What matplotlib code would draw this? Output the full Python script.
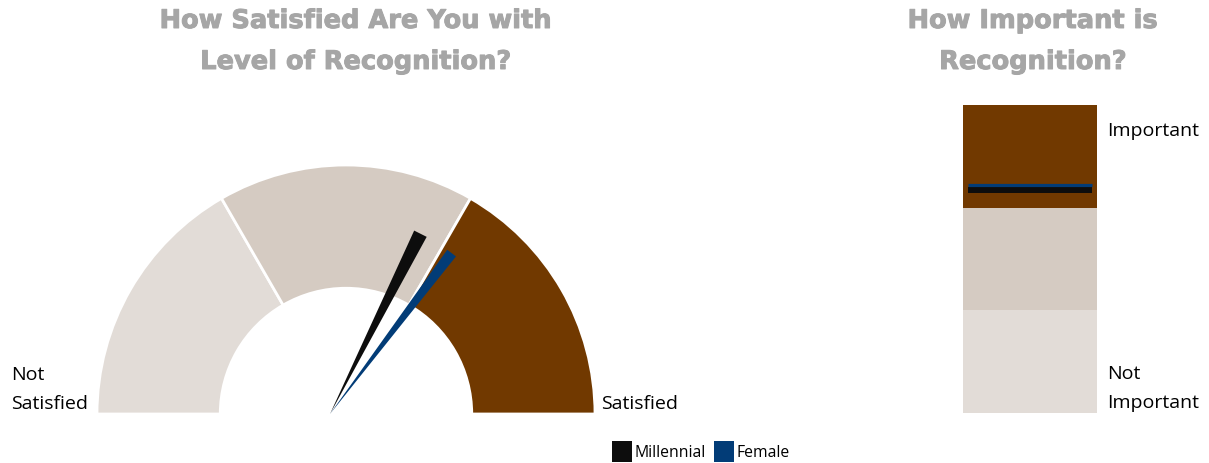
import numpy as np
import matplotlib.pyplot as plt
import matplotlib.patheffects as pe
from matplotlib.patches import Wedge, Polygon, Rectangle

# bandes de la jauge (parts égales) et position des aiguilles (0 = pas satisfait, 1 = satisfait)
gauge_bands = [1 / 3, 1 / 3, 1 / 3]
gauge_colors = ["#E2DCD7", "#D5CBC2", "#713900"]
needle_names = ["Millennial", "Female"]
needle_values = [0.648, 0.706]
needle_colors = ["#0D0D0D", "#023C77"]

# barre empilée "importance"
bar_bands = [1 / 3, 1 / 3, 1 / 3]
bar_colors = ["#E2DCD7", "#D5CBC2", "#713900"]
marker_values = [0.724, 0.739]

W, H = 1209, 464
fig = plt.figure(figsize=(W / 100, H / 100), dpi=100)

# le titre d'origine est en Arial Black : on épaissit un peu le DejaVu gras
title_kw = dict(color="#A6A6A6", fontsize=18.5, fontweight="bold",
                family="DejaVu Sans", ha="center", va="center",
                path_effects=[pe.withStroke(linewidth=0.7, foreground="#A6A6A6")])
label_kw = dict(color="black", fontsize=14, family="Open Sans")

# --- Jauge ---
R_px = 249
cx, cy = 346, 415
ax = fig.add_axes([0, (H - 430) / H, 700 / W, 340 / H])
ax.set_xlim((0 - cx) / R_px, (700 - cx) / R_px)
ax.set_ylim((cy - 430) / R_px, (cy - 90) / R_px)
ax.axis("off")

start = 180.0
for frac, col in zip(gauge_bands, gauge_colors):
    end = start - frac * 180
    ax.add_patch(Wedge((0, 0), 1.0, end, start, width=0.495,
                       facecolor=col, edgecolor="white", linewidth=2))
    start = end

base = np.array([-16 / R_px, 0.0])
needle_len = 0.81
half_w = [7 / R_px, 5.5 / R_px]
for val, col, hw in zip(needle_values, needle_colors, half_w):
    ang = np.radians(180 - val * 180)
    d = np.array([np.cos(ang), np.sin(ang)])
    n = np.array([-d[1], d[0]])
    tip = base + d * needle_len
    ax.add_patch(Polygon([base, tip + n * hw, tip - n * hw],
                         closed=True, facecolor=col, edgecolor="none"))

fig.text(356 / W, 1 - 22 / H, "How Satisfied Are You with", **title_kw)
fig.text(356 / W, 1 - 63 / H, "Level of Recognition?", **title_kw)
fig.text(11 / W, 1 - 375 / H, "Not", va="center", ha="left", **label_kw)
fig.text(11 / W, 1 - 404 / H, "Satisfied", va="center", ha="left", **label_kw)
fig.text(601 / W, 1 - 404 / H, "Satisfied", va="center", ha="left", **label_kw)

# légende
leg_kw = dict(color="black", fontsize=11.3, family="Open Sans", va="center", ha="left")
for x0, name, col in [(612, needle_names[0], needle_colors[0]),
                      (714, needle_names[1], needle_colors[1])]:
    fig.patches.append(Rectangle((x0 / W, 1 - 463 / H), 20 / W, 21 / H,
                                 transform=fig.transFigure, facecolor=col,
                                 edgecolor="none"))
    fig.text((x0 + 23) / W, 1 - 453 / H, name, **leg_kw)

# --- Barre d'importance ---
bx = fig.add_axes([963 / W, (H - 414) / H, 134 / W, 308 / H])
bx.set_xlim(-0.5, 0.5)
bx.set_ylim(0, 1)
bx.axis("off")
bottom = 0.0
for frac, col in zip(bar_bands, bar_colors):
    bx.bar(0, frac, width=1.0, bottom=bottom, color=col, edgecolor="none")
    bottom += frac
bx.hlines(marker_values[0], -0.463, 0.463, color=needle_colors[0], linewidth=4.3)
bx.hlines(marker_values[1], -0.463, 0.463, color=needle_colors[1], linewidth=2.3)

fig.text(1033 / W, 1 - 22 / H, "How Important is", **title_kw)
fig.text(1033 / W, 1 - 63 / H, "Recognition?", **title_kw)
fig.text(1107 / W, 1 - 131 / H, "Important", va="center", ha="left", **label_kw)
fig.text(1107 / W, 1 - 374 / H, "Not", va="center", ha="left", **label_kw)
fig.text(1107 / W, 1 - 403 / H, "Important", va="center", ha="left", **label_kw)

fig.savefig("out.png", dpi=100)
